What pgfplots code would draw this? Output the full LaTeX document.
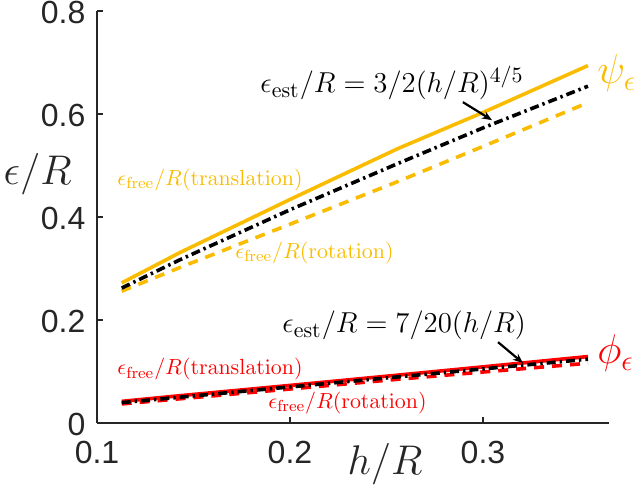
\documentclass[border=0pt]{standalone}
\usepackage[no-math]{fontspec}
\usepackage{pgfplots}
\pgfplotsset{compat=1.18}
\usetikzlibrary{arrows.meta}
\newfontfamily\helv{Liberation Sans}
\definecolor{myyel}{RGB}{250,188,0}
\definecolor{axgray}{RGB}{38,38,38}
\begin{document}
\begin{tikzpicture}
\begin{axis}[
  at={(0,0)}, anchor=south west,
  width=256pt, height=206pt, scale only axis,
  xmin=0.1, xmax=0.3653, ymin=0, ymax=0.8,
  clip=false,
  axis x line*=bottom, axis y line*=left,
  axis line style={-, draw=axgray, line width=1pt},
  xtick={0.1,0.2,0.3}, ytick={0,0.2,0.4,0.6,0.8},
  tick align=inside, major tick length=3pt,
  tick style={draw=axgray, line width=0.8pt},
  /pgf/number format/assume math mode=true,
  ticklabel style={font=\helv\fontsize{16}{18}\selectfont, text=axgray, inner sep=0pt},
  xticklabel style={anchor=center, yshift=-14.5pt},
  yticklabel style={anchor=east, xshift=-5.6pt, yshift=-0.8pt},
  xlabel={$h/R$},
  xlabel style={at={(axis description cs:0.5625,-0.1262)}, anchor=base, font=\fontsize{22}{24}\selectfont, text=axgray},
  ylabel={$\epsilon/R$},
  ylabel style={rotate=-90, at={(axis description cs:-0.116,0.5777)}, anchor=base, font=\fontsize{22}{24}\selectfont, text=axgray},
]
% upper group (psi)
\addplot[myyel, line width=1.8pt, line join=round] coordinates {
(0.1128,0.272) (0.143,0.331) (0.2,0.434) (0.256,0.533) (0.3,0.603) (0.3544,0.694)};
\addplot[myyel, line width=1.8pt, dash pattern=on 5pt off 4pt] coordinates {
(0.1128,0.256) (0.143,0.302) (0.2,0.386) (0.256,0.469) (0.3,0.537) (0.3544,0.622)};
\addplot[black, line width=1.8pt, dash pattern=on 4.5pt off 2pt on 1.2pt off 2pt] coordinates {
(0.1128,0.262) (0.143,0.317) (0.2,0.414) (0.256,0.504) (0.3,0.573) (0.3544,0.654)};
% lower group (phi)
\addplot[red, line width=1.8pt, line join=round] coordinates {
(0.1128,0.042) (0.143,0.053) (0.2,0.073) (0.256,0.093) (0.3,0.109) (0.3544,0.129)};
\addplot[red, line width=1.8pt, dash pattern=on 5pt off 4pt] coordinates {
(0.1128,0.037) (0.143,0.047) (0.2,0.066) (0.256,0.085) (0.3,0.099) (0.3544,0.116)};
\addplot[black, line width=1.8pt, dash pattern=on 4.5pt off 2pt on 1.2pt off 2pt] coordinates {
(0.1128,0.0396) (0.143,0.0501) (0.2,0.070) (0.256,0.0896) (0.3,0.105) (0.3544,0.1239)};
% annotations
\node[anchor=base west, inner sep=0pt, font=\fontsize{15.4}{17}\selectfont] at (axis cs:0.1845,0.6408) {$\epsilon_{\mathrm{est}}/R = 3/2(h/R)^{4/5}$};
\draw[-{Stealth[length=5pt,width=4pt]}, line width=1.1pt] (axis cs:0.2896,0.623) -- (axis cs:0.3047,0.588);
\node[anchor=base west, inner sep=0pt, font=\fontsize{15.4}{17}\selectfont] at (axis cs:0.1959,0.1748) {$\epsilon_{\mathrm{est}}/R = 7/20(h/R)$};
\draw[-{Stealth[length=5pt,width=4pt]}, line width=1.1pt] (axis cs:0.3078,0.157) -- (axis cs:0.3207,0.1165);
\node[anchor=base west, inner sep=0pt, text=myyel, font=\fontsize{11}{13}\selectfont] at (axis cs:0.1104,0.4621) {$\epsilon_{\mathrm{free}}/R(\mathrm{translation})$};
\node[anchor=base west, inner sep=0pt, text=myyel, font=\fontsize{11}{13}\selectfont] at (axis cs:0.1715,0.320) {$\epsilon_{\mathrm{free}}/R(\mathrm{rotation})$};
\node[anchor=base west, inner sep=0pt, text=red, font=\fontsize{11}{13}\selectfont] at (axis cs:0.1104,0.0932) {$\epsilon_{\mathrm{free}}/R(\mathrm{translation})$};
\node[anchor=base west, inner sep=0pt, text=red, font=\fontsize{11}{13}\selectfont] at (axis cs:0.1886,0.0291) {$\epsilon_{\mathrm{free}}/R(\mathrm{rotation})$};
\node[anchor=base west, inner sep=0pt, text=myyel, font=\fontsize{22}{24}\selectfont] at (axis cs:0.3591,0.6583) {$\psi_{\epsilon}$};
\node[anchor=base west, inner sep=0pt, text=red, font=\fontsize{22}{24}\selectfont] at (axis cs:0.3591,0.1146) {$\phi_{\epsilon}$};
\end{axis}
\pgfresetboundingbox
\path (-48.5pt,-31.5pt) rectangle (270.5pt,211.5pt);
\end{tikzpicture}
\end{document}
